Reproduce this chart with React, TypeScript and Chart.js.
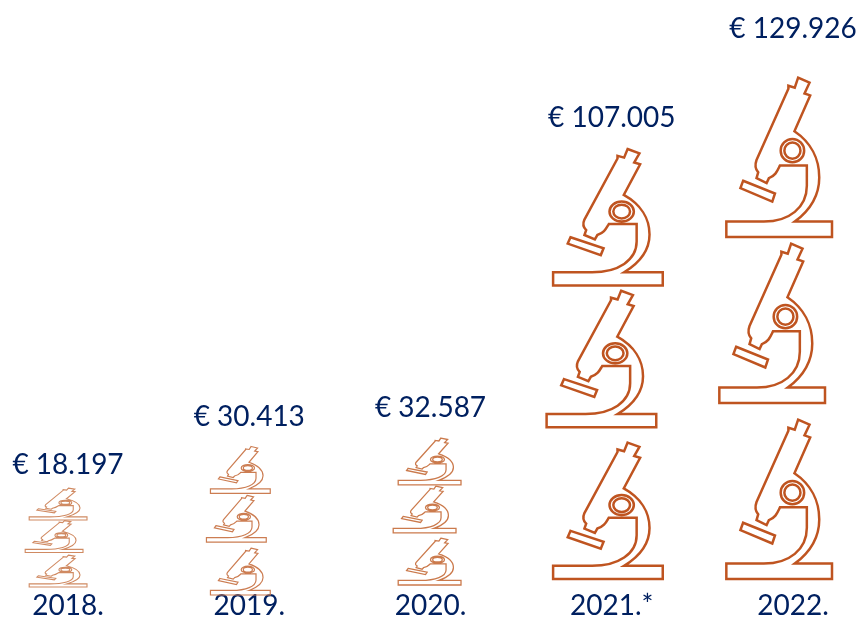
import React, { useEffect, useRef } from "react";
import { Chart, registerables } from "chart.js";

Chart.register(...registerables);

const years = ["2018.", "2019.", "2020.", "2021.*", "2022."];
const amounts = [18197, 30413, 32587, 107005, 129926];

// Pictogram styling per column (offsets from each bar's label anchor, in px)
const iconWidth = [58, 60, 63, 110, 106];
const iconHeight = [32, 47, 47, 137, 160];
const stackTopGap = [25, 31, 31, 32, 50];
const stackBottomGap = [53, 61, 51, 45, 45];
const iconShift = [-10, -9, -1, -4, -14];
const middleShift = [-4, -4, -5, -6.5, -7];
const middleLift = [1, 2, 2, 5, 5];
const lineWidths = [1.1, 1.2, 1.3, 2.5, 2.5];
const lineColors = ["#D08A62", "#CC7D52", "#CB7A4C", "#BF5420", "#BF5420"];

const NAVY = "#002060";
const FONT = "Lato, Carlito, sans-serif";

function traceMicroscope(ctx: CanvasRenderingContext2D) {
  // unit outline: body, stage and focus ring in a 318 x 480 box
  const p = (x: number, y: number) => [x - 17, y - 50] as const;
  const m = (x: number, y: number) => ctx.moveTo(...p(x, y));
  const l = (x: number, y: number) => ctx.lineTo(...p(x, y));
  const q = (a: number, b: number, x: number, y: number) =>
    ctx.quadraticCurveTo(...p(a, b), ...p(x, y));
  const c = (a: number, b: number, d: number, e: number, x: number, y: number) =>
    ctx.bezierCurveTo(...p(a, b), ...p(d, e), ...p(x, y));

  ctx.beginPath();
  m(232, 52);
  l(266, 67);
  l(251, 99);
  l(268, 105);
  l(221, 212);
  c(270, 245, 295, 295, 295, 350);
  c(295, 410, 265, 450, 222, 482);
  l(333, 482);
  l(333, 528);
  l(18, 528);
  l(18, 482);
  l(130, 482);
  c(205, 482, 258, 440, 258, 375);
  l(258, 314);
  l(178, 314);
  c(170, 330, 165, 345, 145, 352);
  l(138, 367);
  l(108, 352);
  l(113, 335);
  q(100, 320, 108, 298);
  l(203, 85);
  l(203, 76);
  l(222, 82);
  ctx.closePath();

  m(68, 360);
  l(163, 398);
  l(155, 422);
  l(60, 382);
  ctx.closePath();

  const [cx, cy] = p(215, 270);
  ctx.moveTo(cx + 35, cy);
  ctx.arc(cx, cy, 35, 0, Math.PI * 2);
  ctx.moveTo(cx + 24, cy);
  ctx.arc(cx, cy, 24, 0, Math.PI * 2);
}

const pictogramPlugin = {
  id: "pictogram",
  afterDatasetsDraw(chart: Chart) {
    const ctx = chart.ctx;
    const bars = chart.getDatasetMeta(0).data as any[];
    const yScale = chart.scales.y;
    bars.forEach((bar, i) => {
      const anchor = bar.y as number;
      const zero = yScale.getPixelForValue(0);
      const top = anchor + stackTopGap[i];
      const bottom = zero + stackBottomGap[i];
      const w = iconWidth[i];
      const h = iconHeight[i];
      const slot = (bottom - top - h) / 2;
      [0, 1, 2].forEach((k) => {
        const left =
          bar.x + iconShift[i] - w / 2 + (k === 1 ? middleShift[i] : 0);
        const y = top + slot * k - (k === 1 ? middleLift[i] : 0);
        ctx.save();
        ctx.translate(left, y);
        ctx.scale(w / 316, h / 478);
        traceMicroscope(ctx);
        ctx.restore();
        ctx.strokeStyle = lineColors[i];
        ctx.lineWidth = lineWidths[i];
        ctx.lineJoin = "miter";
        ctx.stroke();
      });
      ctx.save();
      ctx.fillStyle = NAVY;
      ctx.font = `28px ${FONT}`;
      ctx.textAlign = "center";
      ctx.textBaseline = "middle";
      ctx.fillText(`€ ${amounts[i].toLocaleString("de-DE")}`, bar.x, anchor + 1.5);
      ctx.restore();
    });
  },
};

export default function App() {
  const ref = useRef<HTMLCanvasElement>(null);
  useEffect(() => {
    const chart = new Chart(ref.current!, {
      type: "bar",
      data: {
        labels: years,
        datasets: [
          {
            data: amounts,
            backgroundColor: "rgba(0,0,0,0)",
            borderWidth: 0,
          },
        ],
      },
      options: {
        animation: false,
        responsive: false,
        layout: { padding: { left: 68, right: 67, top: 0, bottom: 0 } },
        plugins: { legend: { display: false }, tooltip: { enabled: false } },
        scales: {
          x: {
            offset: false,
            grid: { display: false, drawTicks: false },
            border: { display: false },
            afterFit: (s: any) => {
              s.height = 29;
            },
            ticks: {
              padding: 1,
              autoSkip: false,
              maxRotation: 0,
              color: NAVY,
              font: { family: FONT, size: 28 },
            },
          },
          y: { display: false, min: -13840, max: 136850 },
        },
      },
      plugins: [pictogramPlugin],
    } as any);
    return () => chart.destroy();
  }, []);
  return (
    <div style={{ position: "fixed", left: 0, top: 0, width: 860, height: 617, background: "#fff" }}>
      <canvas ref={ref} width={860} height={617} style={{ display: "block" }} />
    </div>
  );
}
